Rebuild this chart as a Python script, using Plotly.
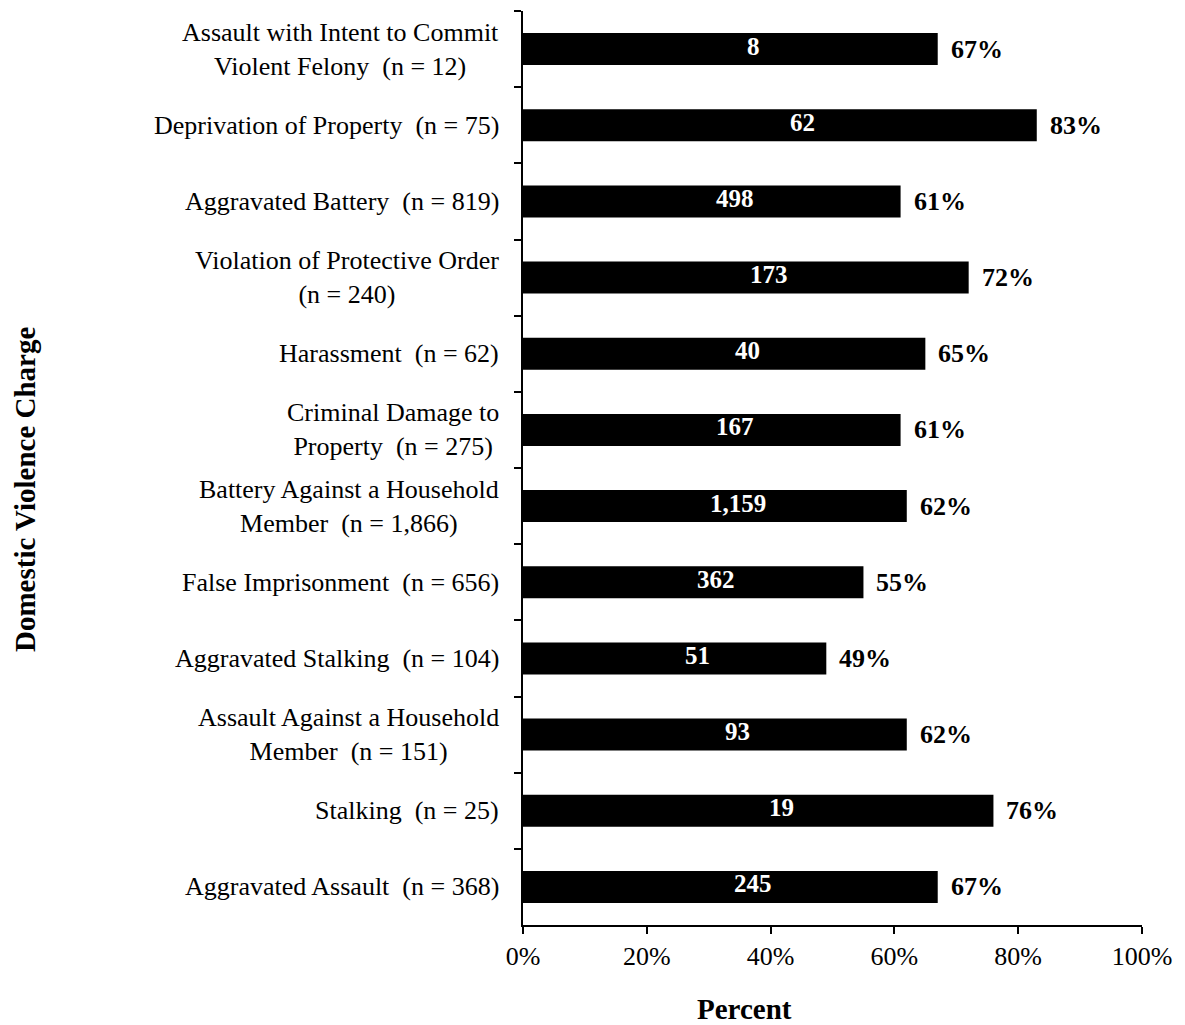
import plotly.graph_objects as go

categories = [
    "Assault with Intent to Commit<br>Violent Felony  (n = 12)",
    "Deprivation of Property  (n = 75)",
    "Aggravated Battery  (n = 819)",
    "Violation of Protective Order<br>(n = 240)",
    "Harassment  (n = 62)",
    "Criminal Damage to<br>Property  (n = 275)",
    "Battery Against a Household<br>Member  (n = 1,866)",
    "False Imprisonment  (n = 656)",
    "Aggravated Stalking  (n = 104)",
    "Assault Against a Household<br>Member  (n = 151)",
    "Stalking  (n = 25)",
    "Aggravated Assault  (n = 368)",
]
counts = ["8", "62", "498", "173", "40", "167", "1,159", "362", "51", "93", "19", "245"]
percents = [67, 83, 61, 72, 65, 61, 62, 55, 49, 62, 76, 67]
x_ticks = [0, 20, 40, 60, 80, 100]
x_tick_labels = ["0%", "20%", "40%", "60%", "80%", "100%"]

FONT = "Liberation Serif, Times New Roman, serif"
keys = [f"c{i}" for i in range(len(categories))]

fig = go.Figure()
fig.add_trace(go.Bar(
    y=keys, x=percents, orientation="h",
    marker=dict(color="black", line=dict(width=0)),
    width=0.42, hoverinfo="skip",
))

ann = []
for k, cat, cnt, p in zip(keys, categories, counts, percents):
    ann.append(dict(x=0, xref="paper", y=k, yref="y", text=cat, showarrow=False,
                    xanchor="right", yanchor="middle", align="center", xshift=-22,
                    font=dict(family=FONT, size=26, color="black")))
    ann.append(dict(x=p / 2, xref="x", y=k, yref="y", text=f"<b>{cnt}</b>", showarrow=False,
                    xanchor="center", yanchor="middle", xshift=23, yshift=3,
                    font=dict(family=FONT, size=25, color="white")))
    ann.append(dict(x=p, xref="x", y=k, yref="y", text=f"<b>{p}%</b>", showarrow=False,
                    xanchor="left", yanchor="middle", xshift=11,
                    font=dict(family=FONT, size=26, color="black")))

ann.append(dict(x=0.5, xref="paper", y=0, yref="paper", text="<b>Percent</b>", showarrow=False,
                xanchor="center", yanchor="middle", yshift=-84, xshift=-88,
                font=dict(family=FONT, size=29, color="black")))
ann.append(dict(x=0, xref="paper", y=0.5, yref="paper", text="<b>Domestic Violence Charge</b>",
                showarrow=False, textangle=-90, xanchor="center", yanchor="middle",
                xshift=-498, yshift=-22,
                font=dict(family=FONT, size=29, color="black")))

fig.update_layout(
    width=1185, height=1025,
    margin=dict(l=523, r=43, t=11, b=100),
    plot_bgcolor="white", paper_bgcolor="white",
    showlegend=False, annotations=ann,
    font=dict(family=FONT, size=26, color="black"),
    xaxis=dict(range=[0, 100], tickvals=x_ticks, ticktext=x_tick_labels,
               showgrid=False, zeroline=False, showline=True, linecolor="black", linewidth=2,
               ticks="outside", ticklen=7, tickwidth=2, tickcolor="black",
               tickfont=dict(family=FONT, size=26)),
    yaxis=dict(categoryorder="array", categoryarray=keys, autorange="reversed",
               showticklabels=False, tickson="boundaries",
               showgrid=False, zeroline=False, showline=True, linecolor="black", linewidth=2,
               ticks="outside", ticklen=7, tickwidth=2, tickcolor="black"),
)

fig.write_html("out.html", config={"displayModeBar": False},
               post_script="document.body.style.margin='0';document.body.style.overflow='hidden';")
